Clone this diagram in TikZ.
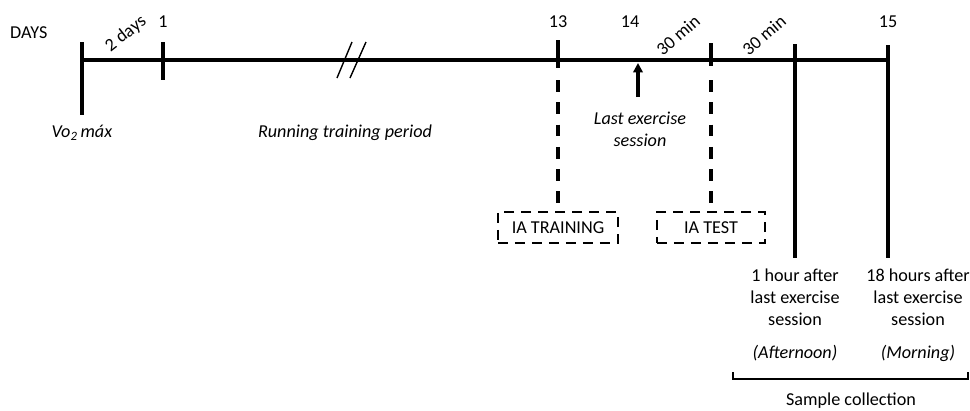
\documentclass[tikz,border=0pt]{standalone}
\usepackage{fontspec}
\setmainfont{Carlito}
\usetikzlibrary{positioning,arrows.meta}

\begin{document}
\begin{tikzpicture}[x=0.03cm,y=-0.03cm,
		tl/.style={line width=2.6pt},
		dtl/.style={line width=2.6pt, dash pattern=on 10.2pt off 8.8pt},
		iabox/.style={draw, line width=1.7pt, dash pattern=on 8.5pt off 6pt, minimum height=0.93cm, inner sep=0pt, font=\fontsize{15.5}{18.8}\selectfont},
		lbl/.style={font=\fontsize{15.5}{18.8}\selectfont, inner sep=0pt},
		note/.style={lbl, align=center}]
		\useasboundingbox (0,0) rectangle (970,410);
		% time line
		\coordinate (start) at (82,60);
		\coordinate (stop) at (889,60);
		\draw[tl] (start) -- (stop);
		\node (days)[lbl, anchor = west] at (10,33) {DAYS};
		%
		\coordinate (vtop) at (82,42);
		\coordinate (vbot) at (82,115);
		\draw[tl] (vtop) -- (vbot);
		\node (vo2)[lbl] at (82,133) {\textit{Vo\textsubscript{2}\,máx}};
		\node (twodays)[lbl, rotate=38] at (126,34) {2 days};
		%
		\coordinate (d1top) at (163,42);
		\coordinate (d1bot) at (163,80);
		\draw[tl] (d1top) -- (d1bot);
		\node (d1)[lbl] at (163,22) {1};
		%
		\coordinate (b1a) at (337,78);
		\coordinate (b1b) at (352,42);
		\coordinate (b2a) at (350,78);
		\coordinate (b2b) at (366,42);
		\draw[line width=1.2pt] (b1a) -- (b1b);
		\draw[line width=1.2pt] (b2a) -- (b2b);
		\node (run)[lbl] at (345,133) {\textit{Running training period}};
		%
		\coordinate (d13top) at (558,40);
		\coordinate (d13mid) at (558,68);
		\coordinate (d13dash) at (558,80);
		\coordinate (d13bot) at (558,203);
		\node (train)[iabox, minimum width=3.6cm] at (558,227.5) {IA TRAINING};
		\draw[tl] (d13top) -- (d13mid);
		\draw[dtl] (d13dash) -- (d13bot);
		\node (d13)[lbl] at (558,22) {13};
		%
		\node (d14)[lbl] at (630,22) {14};
		\coordinate (arrbot) at (638,97);
		\coordinate (arrtop) at (638,63);
		\draw[line width=2.6pt, -{Triangle[length=8pt,width=8pt]}] (arrbot) -- (arrtop);
		\node (last)[note] at (640,129) {\textit{Last exercise}\\\textit{session}};
		\node (min1)[lbl, rotate=41] at (678,35) {30 min};
		%
		\coordinate (ttop) at (711,43);
		\coordinate (tmid) at (711,66);
		\coordinate (tdash) at (711,80);
		\coordinate (tbot) at (711,203);
		\node (test)[iabox, minimum width=3.24cm] at (711,227.5) {IA TEST};
		\draw[tl] (ttop) -- (tmid);
		\draw[dtl] (tdash) -- (tbot);
		\node (min2)[lbl, rotate=41] at (764,35) {30 min};
		%
		\coordinate (h1top) at (795,44);
		\coordinate (h1bot) at (795,258);
		\draw[tl] (h1top) -- (h1bot);
		\node (h1)[note] at (795,297) {1 hour after\\last exercise\\session};
		\node (aft)[lbl] at (795,353) {\textit{(Afternoon)}};
		%
		\coordinate (d15top) at (888,45);
		\coordinate (d15bot) at (888,258);
		\draw[tl] (d15top) -- (d15bot);
		\node (d15)[lbl] at (888,22) {15};
		\node (h18)[note] at (918,297) {18 hours after\\last exercise\\session};
		\node (morn)[lbl] at (918,353) {\textit{(Morning)}};
		%
		\coordinate (bl) at (733,372);
		\coordinate (br) at (968,372);
		\draw[line width=1.4pt] (bl) -- ++(0,7) -| (br);
		\node (sample)[lbl] at (851,401) {Sample collection};
	\end{tikzpicture}
\end{document}
